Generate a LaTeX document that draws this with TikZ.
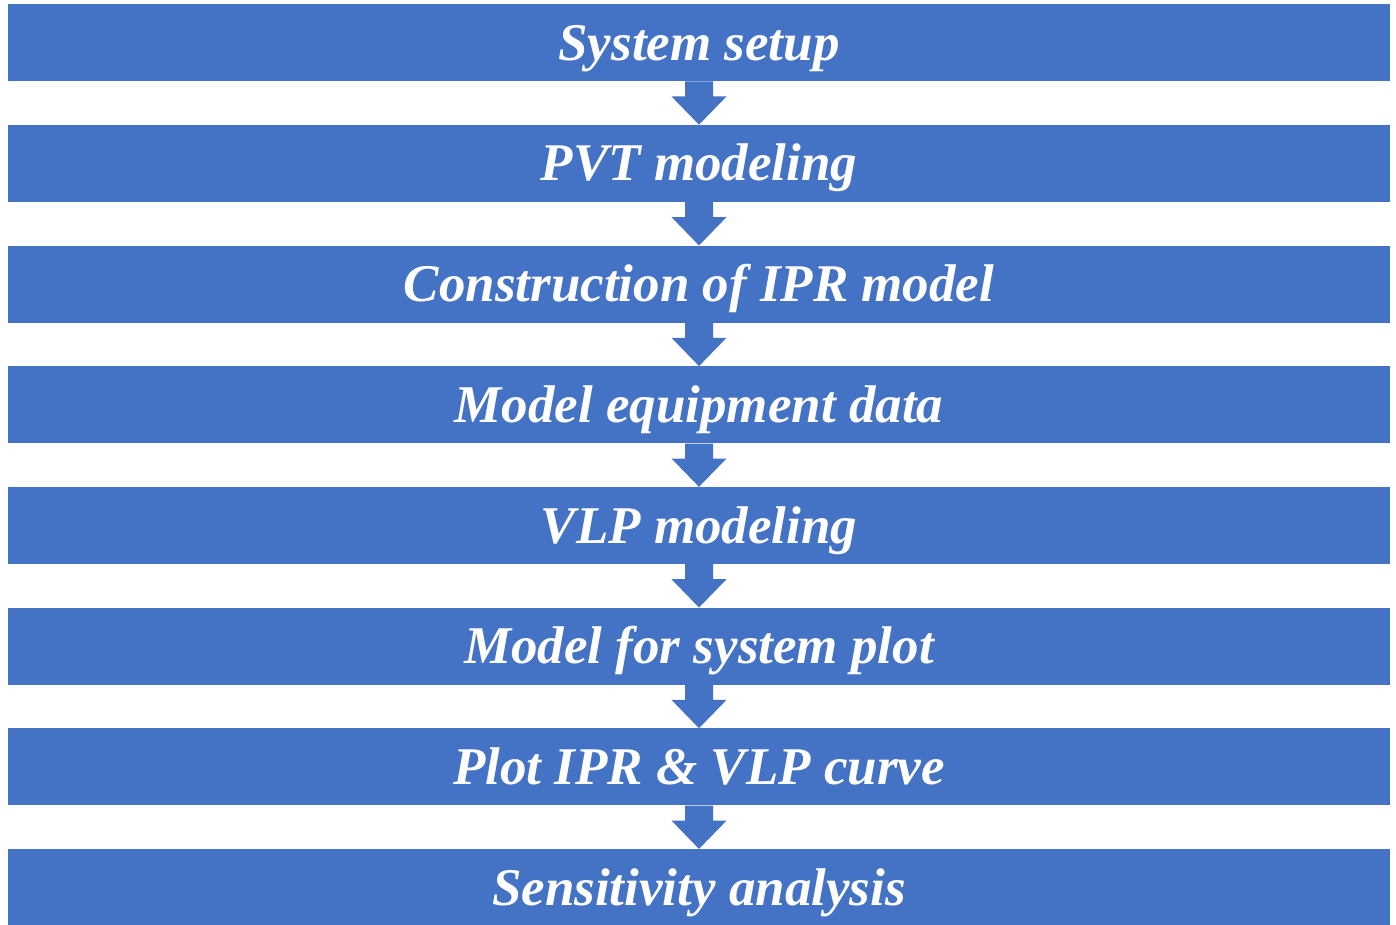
\documentclass[tikz,border=0pt]{standalone}
\usepackage{fontspec}
\setmainfont{Liberation Serif}
\usetikzlibrary{calc}
\definecolor{barblue}{HTML}{4472C4}
\tikzset{
  bar/.style={fill=barblue, draw=none, minimum width=1382pt, minimum height=77pt,
    inner sep=0pt, text=white, text height=35pt, text depth=0pt,
    font=\fontsize{53}{60}\selectfont\bfseries\itshape, anchor=north},
  flowarrow/.style={fill=barblue, draw=none}
}
\newcommand{\flowarr}[2]{%
  \fill[flowarrow] ($(#1.south)+(-14pt,0)$) -- ($(#1.south)+(14pt,0)$)
    -- ($(#1.south)+(14pt,-15pt)$) -- ($(#1.south)+(27.5pt,-15pt)$)
    -- (#2.north) -- ($(#1.south)+(-27.5pt,-15pt)$)
    -- ($(#1.south)+(-14pt,-15pt)$) -- cycle;}
\begin{document}
\begin{tikzpicture}[x=1pt,y=-1pt]
\useasboundingbox (0,0) rectangle (1396,924);
\node[bar] (b1) at (699,4) {System setup};
\node[bar] (b2) at (699,124.7) {PVT modeling};
\node[bar] (b3) at (699,245.4) {Construction of IPR model};
\node[bar] (b4) at (699,366.1) {Model equipment data};
\node[bar] (b5) at (699,486.8) {VLP modeling};
\node[bar] (b6) at (699,607.5) {Model for system plot};
\node[bar] (b7) at (699,728.2) {Plot IPR \& VLP curve};
\node[bar] (b8) at (699,848.9) {Sensitivity analysis};
\flowarr{b1}{b2}
\flowarr{b2}{b3}
\flowarr{b3}{b4}
\flowarr{b4}{b5}
\flowarr{b5}{b6}
\flowarr{b6}{b7}
\flowarr{b7}{b8}
\end{tikzpicture}
\end{document}
